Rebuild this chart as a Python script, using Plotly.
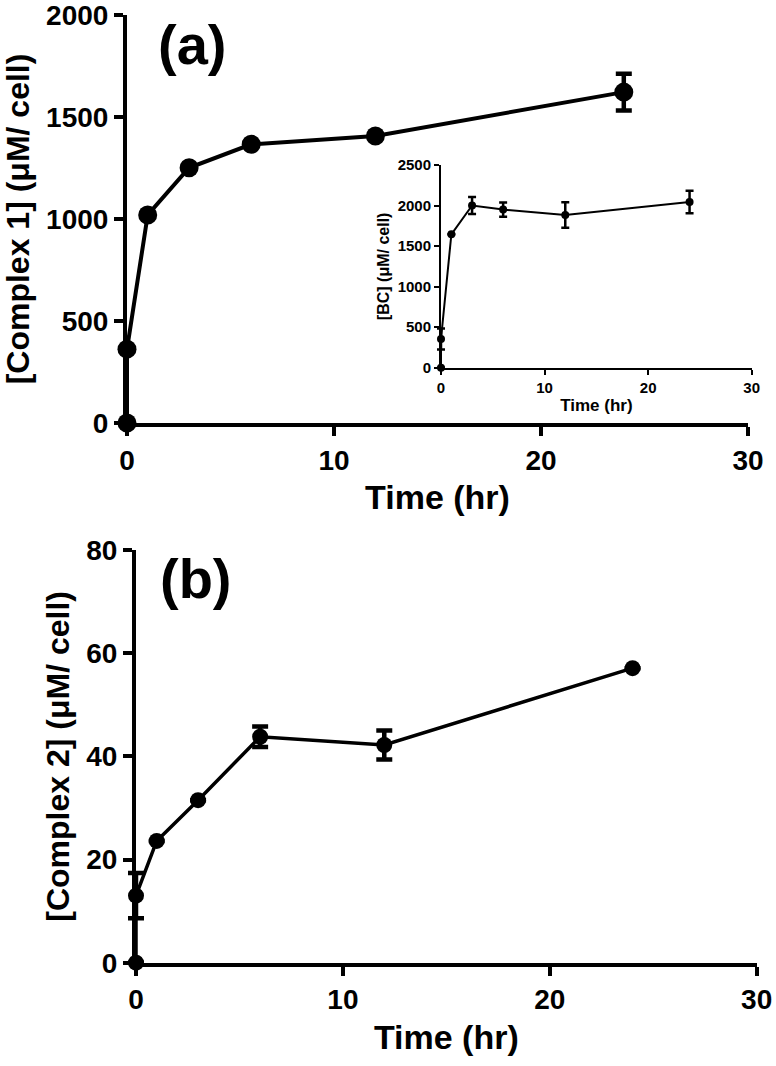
import plotly.graph_objects as go

# ---------------- data ----------------
time_a = [0, 0, 1, 3, 6, 12, 24]
conc_a = [0, 362, 1020, 1251, 1366, 1407, 1622]
err_a = [0, 0, 0, 0, 0, 0, 90]

time_inset = [0, 0, 1, 3, 6, 12, 24]
conc_inset = [0, 354, 1645, 2000, 1950, 1883, 2043]
err_inset = [0, 128, 0, 105, 87, 157, 138]

time_b = [0, 0, 1, 3, 6, 12, 24]
conc_b = [0, 13.0, 23.6, 31.5, 43.8, 42.2, 57.1]
err_b = [0, 4.4, 0, 0, 2.0, 2.8, 0]

x_ticks = [0, 10, 20, 30]
y_ticks_a = [0, 500, 1000, 1500, 2000]
y_ticks_inset = [0, 500, 1000, 1500, 2000, 2500]
y_ticks_b = [0, 20, 40, 60, 80]

W, H = 776, 1066
FONT = "Liberation Sans"

# panel geometry in pixels: (left, right, bottom, top)
PANELS = {
    "a": (127, 748, 423, 15),
    "inset": (441, 751.7, 367.7, 165),
    "b": (136, 756.7, 962.7, 550),
}
PAD = 20  # extra room left of the y axis so error caps at t=0 are not clipped


def px_x(p):
    return p / W


def px_y(p):
    return 1 - p / H


def display_axes(key, yrange, yticks, lw, tl, tfs, ytitle, xtitlefs, ytitlefs,
                 xstand, ystand, xanchor, yanchor):
    l, r, b, t = PANELS[key]
    common = dict(showline=True, linecolor="black", linewidth=lw,
                  ticks="outside", ticklen=tl, tickwidth=lw, tickcolor="black",
                  showgrid=False, zeroline=False, automargin=False, fixedrange=True,
                  ticklabeloverflow="allow",
                  tickfont=dict(family=FONT, size=tfs, color="black", weight="bold"))
    xa = dict(common, domain=[px_x(l), px_x(r)], range=[0, 30], tickvals=x_ticks,
              anchor=yanchor,
              title=dict(text="Time (hr)", standoff=xstand,
                         font=dict(family=FONT, size=xtitlefs, color="black", weight="bold")))
    ya = dict(common, domain=[px_y(b), px_y(t)], range=yrange, tickvals=yticks,
              anchor=xanchor,
              title=dict(text=ytitle, standoff=ystand,
                         font=dict(family=FONT, size=ytitlefs, color="black", weight="bold")))
    return xa, ya


def data_axes(key, yrange, xanchor, yanchor):
    l, r, b, t = PANELS[key]
    scale = (r - l) / 30.0
    xa = dict(visible=False, domain=[px_x(l - PAD), px_x(r)],
              range=[-PAD / scale, 30], anchor=yanchor, fixedrange=True)
    ya = dict(visible=False, domain=[px_y(b), px_y(t)], range=yrange,
              anchor=xanchor, fixedrange=True)
    return xa, ya


fig = go.Figure()

# empty traces so that the visible (display) axes are drawn
for xa, ya in [("x", "y"), ("x2", "y2"), ("x3", "y3")]:
    fig.add_trace(go.Scatter(x=[], y=[], mode="markers", xaxis=xa, yaxis=ya,
                             showlegend=False, hoverinfo="skip"))

# data traces on hidden axes that share the visible axes' scales
fig.add_trace(go.Scatter(
    x=time_a, y=conc_a, mode="lines+markers",
    line=dict(color="black", width=4),
    marker=dict(color="black", size=19),
    error_y=dict(type="data", array=err_a, visible=True, color="black",
                 thickness=4.5, width=8),
    cliponaxis=False, xaxis="x4", yaxis="y4", showlegend=False))

fig.add_trace(go.Scatter(
    x=time_inset, y=conc_inset, mode="lines+markers",
    line=dict(color="black", width=2),
    marker=dict(color="black", size=8),
    error_y=dict(type="data", array=err_inset, visible=True, color="black",
                 thickness=2.5, width=4),
    cliponaxis=False, xaxis="x5", yaxis="y5", showlegend=False))

fig.add_trace(go.Scatter(
    x=time_b, y=conc_b, mode="lines+markers",
    line=dict(color="black", width=3.5),
    marker=dict(color="black", size=16),
    error_y=dict(type="data", array=err_b, visible=True, color="black",
                 thickness=4.5, width=8),
    cliponaxis=False, xaxis="x6", yaxis="y6", showlegend=False))

x1, y1 = display_axes("a", [0, 2000], y_ticks_a, 4, 9, 28,
                      "[Complex 1] (μM/ cell)", 34, 32, 12, 8, "x", "y")
x2, y2 = display_axes("inset", [0, 2500], y_ticks_inset, 2, 5, 15,
                      "[BC] (μM/ cell)", 17, 16, 4, 4, "x2", "y2")
x3, y3 = display_axes("b", [0, 80], y_ticks_b, 4, 9, 28,
                      "[Complex 2] (μM/ cell)", 34, 32, 12, 8, "x3", "y3")
x4, y4 = data_axes("a", [0, 2000], "x4", "y4")
x5, y5 = data_axes("inset", [0, 2500], "x5", "y5")
x6, y6 = data_axes("b", [0, 80], "x6", "y6")

fig.update_layout(
    width=W, height=H,
    margin=dict(l=0, r=0, t=0, b=0),
    paper_bgcolor="white", plot_bgcolor="rgba(0,0,0,0)",
    xaxis=x1, yaxis=y1, xaxis2=x2, yaxis2=y2, xaxis3=x3, yaxis3=y3,
    xaxis4=x4, yaxis4=y4, xaxis5=x5, yaxis5=y5, xaxis6=x6, yaxis6=y6,
    annotations=[
        dict(text="(a)", x=px_x(192), y=px_y(45), xref="paper", yref="paper",
             showarrow=False, xanchor="center", yanchor="middle",
             font=dict(family=FONT, size=56, color="black", weight="bold")),
        dict(text="(b)", x=px_x(196), y=px_y(578), xref="paper", yref="paper",
             showarrow=False, xanchor="center", yanchor="middle",
             font=dict(family=FONT, size=56, color="black", weight="bold")),
    ],
)

fig.write_html("out.html",
               config={"displayModeBar": False},
               post_script="document.body.style.margin='0';"
                           "document.body.style.overflow='hidden';")
